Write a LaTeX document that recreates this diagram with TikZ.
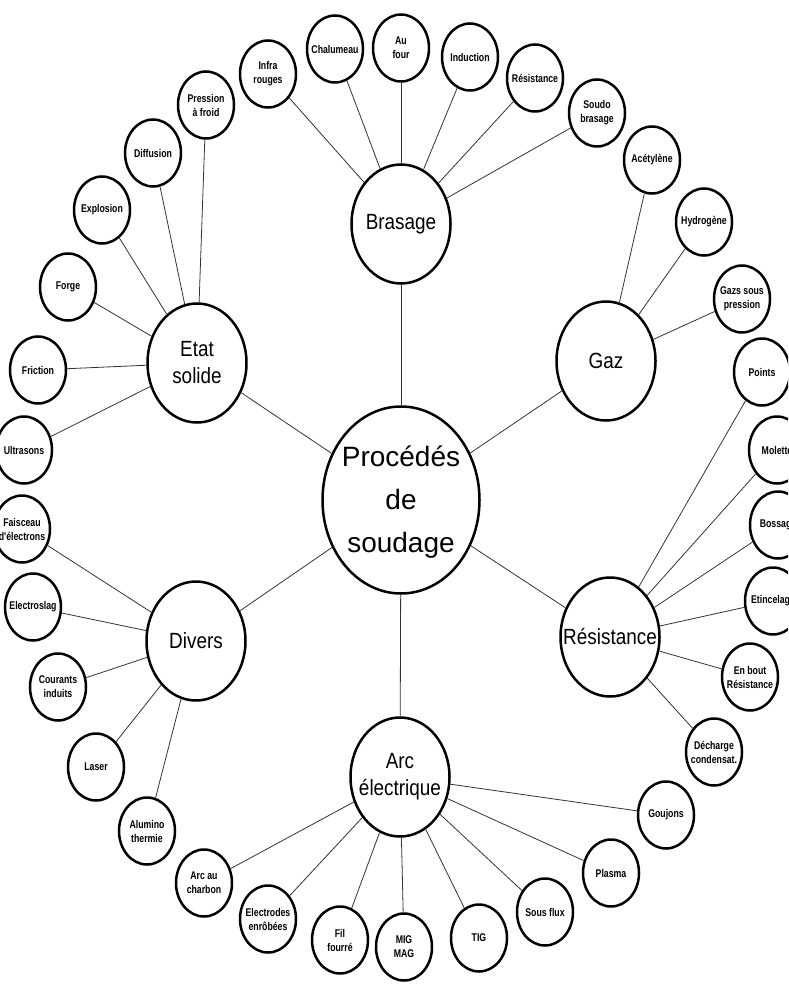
\documentclass[tikz,border=0pt]{standalone}
\usepackage{fontspec}
\setmainfont{Liberation Sans}
\newfontfamily\smallf{Liberation Sans}[FakeStretch=0.78]
\newfontfamily\bigf{Liberation Sans}[FakeStretch=0.86]
\usetikzlibrary{shapes.geometric}
\tikzset{
  ell/.style={ellipse, draw, line width=2.5pt, fill=white, inner sep=0pt},
  big/.style={ell, minimum width=157pt, minimum height=187pt},
  mid/.style={ell, minimum width=99pt, minimum height=119pt},
  sm/.style={ell, minimum width=56pt, minimum height=67pt},
  biglab/.style={align=center, font=\fontsize{28}{43}\selectfont, inner sep=0pt},
  midlab/.style={align=center, font=\bigf\fontsize{22}{27}\selectfont, inner sep=0pt},
  smlab/.style={align=center, font=\smallf\bfseries\fontsize{11.2}{14}\selectfont, inner sep=0pt},
  conn/.style={draw=black!80, line width=0.8pt}
}
\begin{document}
\begin{tikzpicture}[x=1pt,y=-1pt]
\useasboundingbox (0,0) rectangle (788,992);
\clip (0,0) rectangle (788,992);
% main
\node[big, label={[biglab, yshift=-2pt]center:Procédés\\de\\soudage}] (c) at (401,500) {};
\node[mid, label={[midlab]center:Brasage}] (bra) at (401,224) {};
\node[mid, label={[midlab]center:Gaz}] (gaz) at (606,361) {};
\node[mid, label={[midlab]center:Etat\\solide}] (etat) at (197,363) {};
\node[mid, label={[midlab]center:Divers}] (div) at (196,641) {};
\node[mid, label={[midlab]center:Résistance}] (res) at (610,637) {};
\node[mid, label={[midlab]center:Arc\\électrique}] (arc) at (400,777) {};
% Brasage
\node[sm, label={[smlab]center:Infra\\rouges}] (ir) at (268,74) {};
\node[sm, label={[smlab]center:Chalumeau}] (chal) at (335,49) {};
\node[sm, label={[smlab]center:Au\\four}] (four) at (401,48) {};
\node[sm, label={[smlab]center:Induction}] (ind) at (470,57) {};
\node[sm, label={[smlab]center:Résistance}] (res1) at (535,78) {};
\node[sm, label={[smlab]center:Soudo\\brasage}] (soudo) at (597,113) {};
% Gaz
\node[sm, label={[smlab]center:Acétylène}] (acet) at (652,160) {};
\node[sm, label={[smlab]center:Hydrogène}] (hydro) at (704,222) {};
\node[sm, label={[smlab]center:Gazs sous\\pression}] (gsp) at (742,299) {};
% Resistance
\node[sm, label={[smlab]center:Points}] (pts) at (762,372) {};
\node[sm, label={[smlab]center:Molette}] (mol) at (777,450) {};
\node[sm, label={[smlab]center:Bossage}] (boss) at (778,525) {};
\node[sm, label={[smlab]center:Etincelage}] (etin) at (773,601) {};
\node[sm, label={[smlab]center:En bout\\Résistance}] (enb) at (750,677) {};
\node[sm, label={[smlab]center:Décharge\\condensat.}] (dech) at (714,752) {};
% Arc
\node[sm, label={[smlab]center:Goujons}] (gou) at (666,815) {};
\node[sm, label={[smlab]center:Plasma}] (pla) at (611,873) {};
\node[sm, label={[smlab]center:Sous flux}] (sfl) at (545,912) {};
\node[sm, label={[smlab]center:TIG}] (tig) at (479,938) {};
\node[sm, label={[smlab]center:MIG\\MAG}] (mig) at (404,947) {};
\node[sm, label={[smlab]center:Fil\\fourré}] (fil) at (340,940) {};
\node[sm, label={[smlab]center:Electrodes\\enrôbées}] (elec) at (268,919) {};
\node[sm, label={[smlab]center:Arc au\\charbon}] (cha) at (204,883) {};
% Divers
\node[sm, label={[smlab]center:Alumino\\thermie}] (alu) at (147,831) {};
\node[sm, label={[smlab]center:Laser}] (las) at (96,767) {};
\node[sm, label={[smlab]center:Courants\\induits}] (cour) at (58,687) {};
\node[sm, label={[smlab]center:Electroslag}] (esl) at (33,607) {};
\node[sm, label={[smlab]center:Faisceau\\d'électrons}] (fais) at (22,529) {};
% Etat solide
\node[sm, label={[smlab]center:Ultrasons}] (ult) at (24,450) {};
\node[sm, label={[smlab]center:Friction}] (fri) at (38,370) {};
\node[sm, label={[smlab]center:Forge}] (for) at (68,287) {};
\node[sm, label={[smlab]center:Explosion}] (exp) at (102,210) {};
\node[sm, label={[smlab]center:Diffusion}] (dif) at (153,153) {};
\node[sm, label={[smlab]center:Pression\\à froid}] (pre) at (206,105) {};
% connectors
\foreach \n in {bra,gaz,etat,div,res,arc} \draw[conn] (c) -- (\n);
\foreach \n in {ir,chal,four,ind,res1,soudo} \draw[conn] (bra) -- (\n);
\foreach \n in {acet,hydro,gsp} \draw[conn] (gaz) -- (\n);
\foreach \n in {pts,mol,boss,etin,enb,dech} \draw[conn] (res) -- (\n);
\foreach \n in {gou,pla,sfl,tig,mig,fil,elec,cha} \draw[conn] (arc) -- (\n);
\foreach \n in {alu,las,cour,esl,fais} \draw[conn] (div) -- (\n);
\foreach \n in {ult,fri,for,exp,dif,pre} \draw[conn] (etat) -- (\n);
\end{tikzpicture}
\end{document}
